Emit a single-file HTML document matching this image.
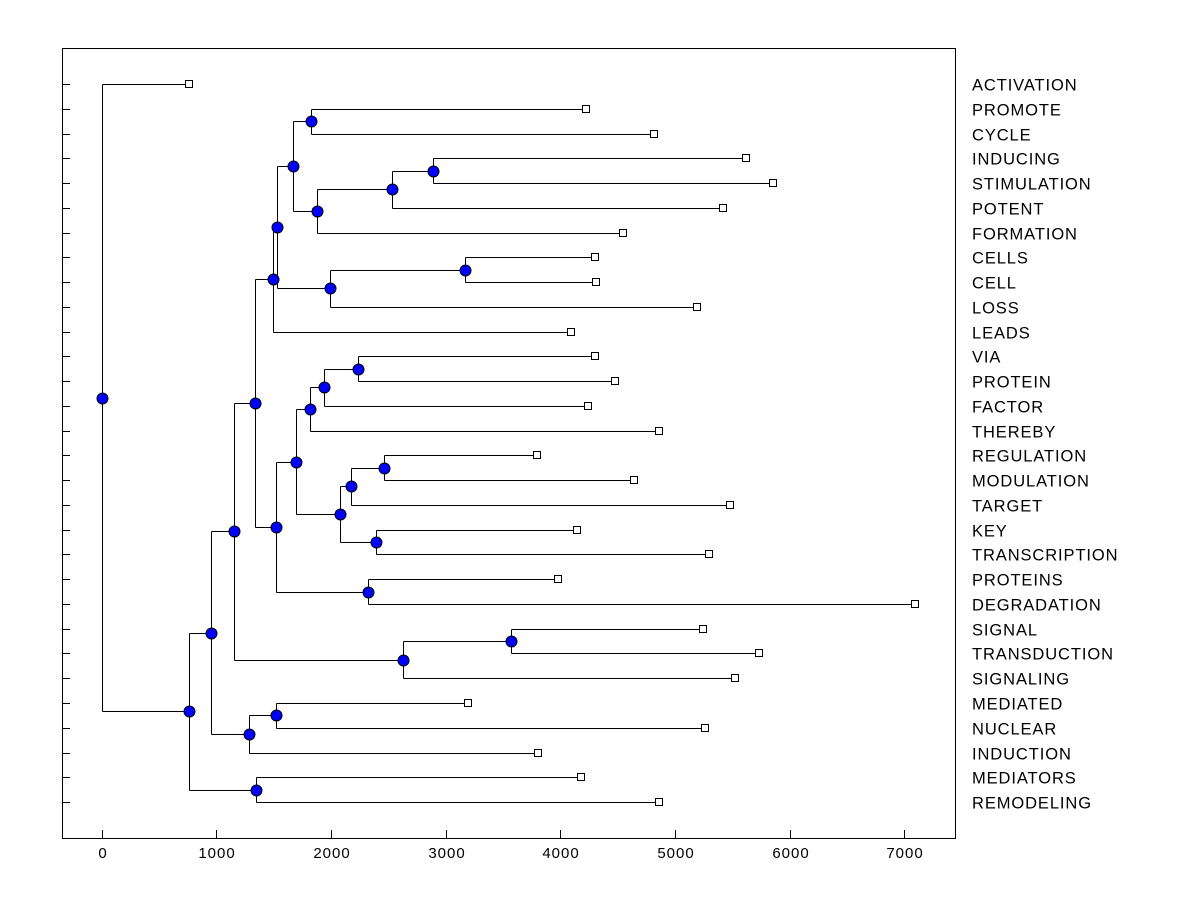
<!DOCTYPE html>
<html><head><meta charset="utf-8"><style>
body{margin:0;background:#fff;}
svg text{font-family:"Liberation Sans",Arial,sans-serif;}
</style></head><body>
<svg id="chart" width="1200" height="900"></svg>
<script>
const labels=["ACTIVATION","PROMOTE","CYCLE","INDUCING","STIMULATION","POTENT","FORMATION","CELLS","CELL","LOSS","LEADS","VIA","PROTEIN","FACTOR","THEREBY","REGULATION","MODULATION","TARGET","KEY","TRANSCRIPTION","PROTEINS","DEGRADATION","SIGNAL","TRANSDUCTION","SIGNALING","MEDIATED","NUCLEAR","INDUCTION","MEDIATORS","REMODELING"];
const leafValues=[763,4228,4821,5623,5858,5419,4547,4303,4311,5192,4093,4303,4477,4242,4861,3797,4643,5480,4146,5296,3984,7093,5244,5733,5524,3195,5262,3806,4181,4861];
const mergeLeft=[1,3,31,32,30,7,35,34,37,11,39,40,15,42,18,43,41,20,46,38,22,50,49,25,53,28,52,56,0];
const mergeRight=[2,4,5,6,33,8,9,36,10,12,13,14,16,17,19,44,45,21,47,48,23,24,51,26,27,29,54,55,57];
const mergeHeights=[1827,2891,2533,1883,1670,3170,1993,1534,1496,2237,1941,1819,2463,2172,2390,2083,1697,2323,1522,1338,3570,2628,1151,1522,1287,1350,959,763,0];
const xTicks=[0,1000,2000,3000,4000,5000,6000,7000];

const NS="http://www.w3.org/2000/svg";
const svg=document.getElementById('chart');
const L=62,R=955,T=48,B=838;
const xs=v=>101.5+v*0.11470;
const ys=i=>84+i*24.76;
function el(tag,attrs,parent){const e=document.createElementNS(NS,tag);for(const k in attrs)e.setAttribute(k,attrs[k]);(parent||svg).appendChild(e);return e;}

const frame=el('rect',{x:L+0.5,y:T+0.5,width:R-L,height:B-T,fill:'none',stroke:'#000','stroke-width':1});



const xAxis=el('g',{});


xTicks.forEach(t=>{
  const x=Math.round(xs(t))+0.5;
  el('line',{x1:x,x2:x,y1:B,y2:B-8,stroke:'#000'},xAxis);
  const tx=el('text',{x:x+0.5,y:858,'text-anchor':'middle','font-size':15,'letter-spacing':1},xAxis);
  tx.textContent=t;
  
  
});

const linesG=el('g',{stroke:'#000','stroke-width':1,fill:'none'});



const N=labels.length;
const nodeX=[],nodeY=[];
labels.forEach((lab,i)=>{
  nodeX[i]=xs(leafValues[i]);nodeY[i]=ys(i);
  const y=Math.round(ys(i))+0.5;
  el('line',{x1:L,x2:L+8,y1:y,y2:y,stroke:'#000'});
  const tx=el('text',{x:972,y:y+6,'font-size':16.5,'letter-spacing':0.9});
  tx.textContent=lab;
  
  
});
for(let m=0;m<mergeHeights.length;m++){
  const id=N+m,a=mergeLeft[m],b=mergeRight[m];
  nodeX[id]=xs(mergeHeights[m]);
  nodeY[id]=(nodeY[a]+nodeY[b])/2;
}
for(let m=0;m<mergeHeights.length;m++){
  const id=N+m,a=mergeLeft[m],b=mergeRight[m];
  const px=Math.round(nodeX[id])+0.5;
  const ya=Math.round(nodeY[a])+0.5,yb=Math.round(nodeY[b])+0.5;
  el('line',{x1:px,x2:px,y1:ya,y2:yb},linesG);
  el('line',{x1:px,x2:Math.round(nodeX[a])+0.5,y1:ya,y2:ya},linesG);
  el('line',{x1:px,x2:Math.round(nodeX[b])+0.5,y1:yb,y2:yb},linesG);
}
labels.forEach((lab,i)=>{
  const r=el('rect',{x:Math.round(nodeX[i])-3.5,y:Math.round(nodeY[i])-3.5,width:7,height:7,fill:'#fff',stroke:'#000'});
  
  
});
for(let m=0;m<mergeHeights.length;m++){
  const id=N+m;
  const c=el('circle',{cx:Math.round(nodeX[id])+0.5,cy:Math.round(nodeY[id])+0.5,r:5.5,fill:'#0000ff',stroke:'#000','stroke-width':1});
  
  
}
</script>
</body></html>
